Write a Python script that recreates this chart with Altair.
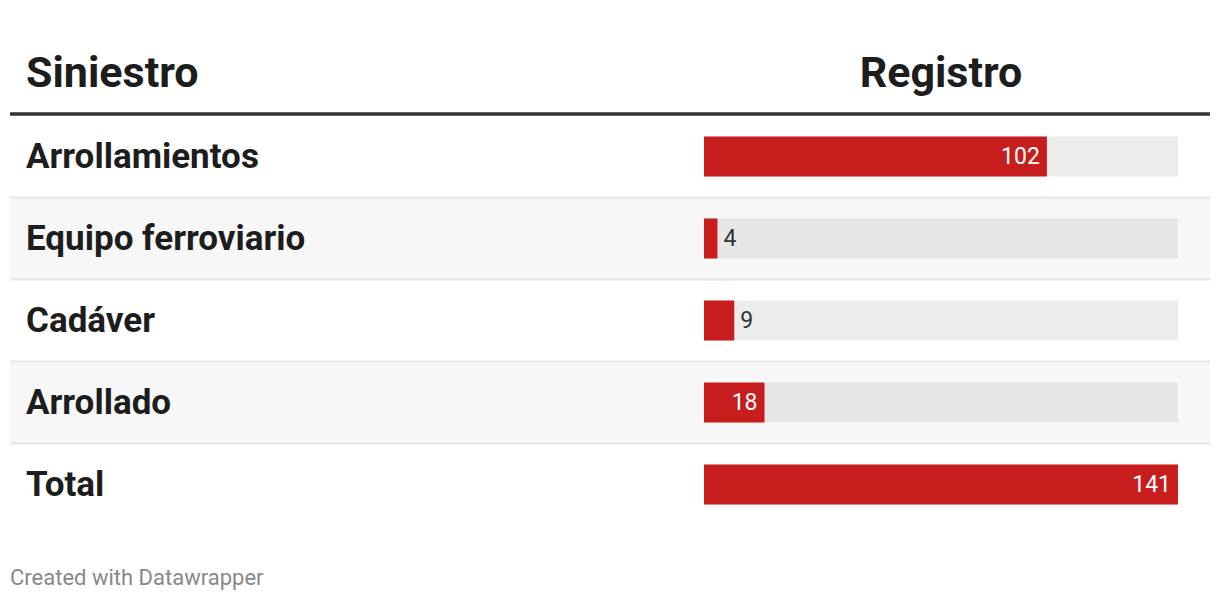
import altair as alt
import pandas as pd

categories = ["Arrollamientos", "Equipo ferroviario", "Cadáver", "Arrollado", "Total"]
values = [102, 4, 9, 18, 141]
headers = ["Siniestro", "Registro"]
footer = ["Created with Datawrapper"]

FONT = "Roboto"
DARK = "#1d1d1d"
RED = "#c71e1d"

df = pd.DataFrame({"cat": categories, "value": values})
df["idx"] = list(range(len(df)))
df["max"] = max(values)

yscale = alt.Scale(type="band", domain=categories, range=[107.5, 517.5],
                   paddingInner=0, paddingOuter=0)
xscale = alt.Scale(domain=[0, max(values)], range=[696, 1170], nice=False, zero=True)

Y = alt.Y("cat:N", scale=yscale, axis=None, sort=categories)
base = alt.Chart(df)

stripes = base.mark_rect(color="#f7f7f7").encode(
    y=Y, x=alt.value(2), x2=alt.value(1202)
).transform_filter("datum.idx % 2 == 1")

seps = base.mark_rule(color="#e6e6e6", strokeWidth=2).encode(
    y=alt.Y("cat:N", scale=yscale, axis=None, sort=categories, bandPosition=1),
    x=alt.value(2), x2=alt.value(1202)
).transform_filter("datum.idx < 4")

bg = base.mark_bar(size=40).encode(
    y=Y, x=alt.X("max:Q", scale=xscale, axis=None),
    color=alt.condition("datum.idx % 2 == 1", alt.value("#e7e7e7"), alt.value("#ececec")),
)
bars = base.mark_bar(size=40, color=RED).encode(
    y=Y, x=alt.X("value:Q", scale=xscale, axis=None)
)

lab_in = base.mark_text(align="right", dx=-7, baseline="middle", font=FONT,
                        fontSize=23, color="white").encode(
    y=Y, x=alt.X("value:Q", scale=xscale, axis=None), text="value:Q"
).transform_filter("datum.value >= 15")
lab_out = base.mark_text(align="left", dx=6, baseline="middle", font=FONT,
                         fontSize=23, color="#333").encode(
    y=Y, x=alt.X("value:Q", scale=xscale, axis=None), text="value:Q"
).transform_filter("datum.value < 15")

cat_labels = base.mark_text(align="left", baseline="middle", font=FONT,
                            fontSize=35, fontWeight="bold", color=DARK).encode(
    y=Y, x=alt.value(18), text="cat:N"
)

hdr_df = pd.DataFrame({"h": headers})
hdr1 = alt.Chart(hdr_df).mark_text(align="left", baseline="alphabetic", font=FONT,
                                   fontSize=43, fontWeight="bold", color=DARK).encode(
    x=alt.value(18), y=alt.value(79), text="h:N"
).transform_filter(alt.datum.h == headers[0])
hdr2 = alt.Chart(hdr_df).mark_text(align="center", baseline="alphabetic", font=FONT,
                                   fontSize=43, fontWeight="bold", color=DARK).encode(
    x=alt.value(933), y=alt.value(79), text="h:N"
).transform_filter(alt.datum.h == headers[1])

hrule = alt.Chart(hdr_df).mark_rule(color="#333", strokeWidth=3.5).encode(
    x=alt.value(2), x2=alt.value(1202), y=alt.value(106)
).transform_filter(alt.datum.h == headers[0])

foot = alt.Chart(pd.DataFrame({"f": footer})).mark_text(
    align="left", baseline="alphabetic", font=FONT, fontSize=22, color="#888"
).encode(x=alt.value(2), y=alt.value(577), text="f:N")

chart = alt.layer(stripes, seps, bg, bars, lab_in, lab_out, cat_labels,
                  hdr1, hdr2, hrule, foot).properties(
    width=1204, height=584,
    autosize=alt.AutoSizeParams(type="none"),
    padding=0,
).configure(background="white").configure_view(stroke="transparent", strokeWidth=0)

chart.save("out.html", embed_options={"renderer": "svg", "actions": False})
